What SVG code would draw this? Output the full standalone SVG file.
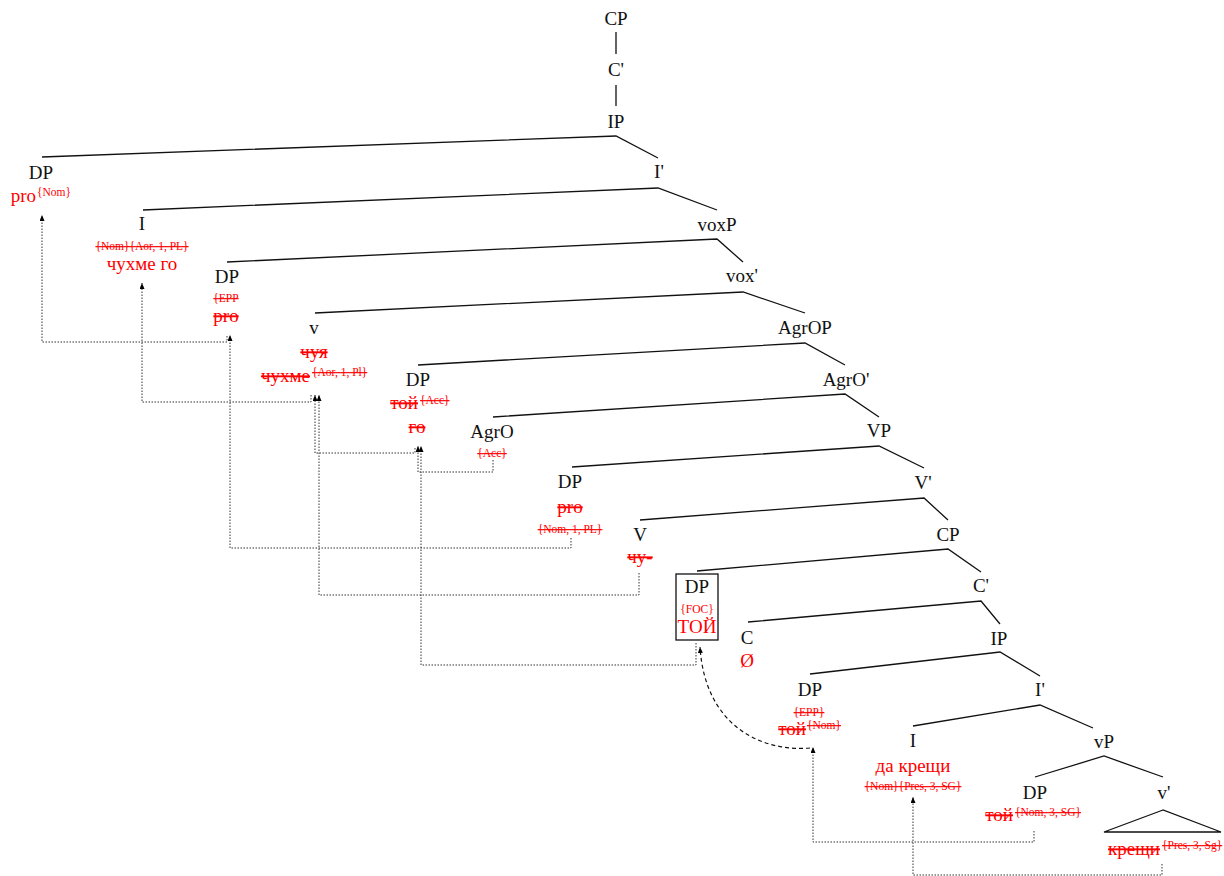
<svg xmlns="http://www.w3.org/2000/svg" width="1224" height="876" viewBox="0 0 1224 876">
<defs>
<marker id="ah" viewBox="0 0 6 5" refX="6" refY="2.5" markerWidth="6" markerHeight="5" markerUnits="userSpaceOnUse" orient="auto">
<path d="M0,0 L6,2.5 L0,5 z" fill="#000"/>
</marker>
<style>
text{font-family:"Liberation Serif","DejaVu Serif",serif;}
.l{font-size:19px;fill:#111;text-anchor:middle;}
.r{font-size:19px;fill:#f00;text-anchor:middle;}
.s{font-size:11.5px;fill:#f00;text-anchor:middle;}
.st{text-decoration:line-through;}
.e{text-anchor:end;}
.b{text-anchor:start;}
.edge{stroke:#111;stroke-width:1.3;fill:none;}
.mv{stroke:#333;stroke-width:1;fill:none;stroke-dasharray:1.5 1.5;marker-end:url(#ah);}
.cv{stroke:#111;stroke-width:1.2;fill:none;stroke-dasharray:4 3;marker-end:url(#ah);}
</style>
</defs>
<rect width="1224" height="876" fill="#fff"/>
<g id="connectors">
<path class="edge" d="M616,32V54M616,85V106"/>
<path class="edge" d="M42,157L616,136L658,158"/>
<path class="edge" d="M143,210L658,188L717,210"/>
<path class="edge" d="M227,262L717,239L743,262"/>
<path class="edge" d="M315,313L743,292L805,313"/>
<path class="edge" d="M418,365L805,343L845,365"/>
<path class="edge" d="M493,417L845,394L879,417"/>
<path class="edge" d="M572,467L879,446L924,468"/>
<path class="edge" d="M640,520L924,498L948,520"/>
<path class="edge" d="M697,571L948,549L981,572"/>
<path class="edge" d="M748,622L981,601L1000,624"/>
<path class="edge" d="M810,674L1000,652L1040,676"/>
<path class="edge" d="M913,726L1040,705L1093,728"/>
<path class="edge" d="M1035,777L1104,756L1163,777"/>
<path class="mv" d="M227,336V342H42V215"/>
<path class="mv" d="M571,538V548H230V335"/>
<path class="mv" d="M311,395V402H142V283"/>
<path class="mv" d="M493,460V472H418V446"/>
<path class="mv" d="M696,643V665H421V446"/>
<path class="mv" d="M415,448V453H315V395"/>
<path class="mv" d="M639,573V595H319V395"/>
<path class="mv" d="M1034,831V842H813V747"/>
<path class="mv" d="M1162,864V875H913V797"/>
<path class="cv" d="M810,748C760,752 705,725 700,647"/>
</g>
<g id="n-CP1"><text class="l" x="616" y="25">CP</text></g>
<g id="n-C1"><text class="l" x="616" y="76">C'</text></g>
<g id="n-IP1"><text class="l" x="616" y="128">IP</text></g>
<g id="n-DP1"><text class="l" x="41" y="179">DP</text><text class="r e" x="36" y="202">pro</text><text class="s b" x="37" y="196">{Nom}</text></g>
<g id="n-I1bar"><text class="l" x="659" y="178">I'</text></g>
<g id="n-I1"><text class="l" x="142" y="230">I</text><text class="s st" x="142" y="250">{Nom}{Aor, 1, PL}</text><text class="r" x="142" y="270">чухме го</text></g>
<g id="n-voxP"><text class="l" x="717" y="231">voxP</text></g>
<g id="n-DP2"><text class="l" x="227" y="283">DP</text><text class="s st" x="226" y="302">{EPP</text><text class="r st" x="226" y="322">pro</text></g>
<g id="n-voxbar"><text class="l" x="742" y="282">vox'</text></g>
<g id="n-v"><text class="l" x="314" y="334">v</text><text class="r st" x="314" y="358">чуя</text><text class="r st e" x="310" y="382">чухме</text><text class="s st b" x="312" y="376">{Aor, 1, Pl}</text></g>
<g id="n-AgrOP"><text class="l" x="805" y="334">AgrOP</text></g>
<g id="n-DP3"><text class="l" x="418" y="386">DP</text><text class="r st e" x="418" y="409">той</text><text class="s st b" x="420" y="404">{Acc}</text><text class="r st" x="417" y="433">го</text></g>
<g id="n-AgrObar"><text class="l" x="846" y="386">AgrO'</text></g>
<g id="n-AgrO"><text class="l" x="492" y="438">AgrO</text><text class="s st" x="492" y="457">{Acc}</text></g>
<g id="n-VP"><text class="l" x="879" y="437">VP</text></g>
<g id="n-DP4"><text class="l" x="570" y="488">DP</text><text class="r st" x="570" y="513">pro</text><text class="s st" x="570" y="533">{Nom, 1, PL}</text></g>
<g id="n-Vbar"><text class="l" x="923" y="489">V'</text></g>
<g id="n-V"><text class="l" x="640" y="541">V</text><text class="r st" x="640" y="563">чу-</text></g>
<g id="n-CP2"><text class="l" x="948" y="541">CP</text></g>
<g id="n-DPfoc"><rect x="676" y="574" width="42" height="66" fill="none" stroke="#111" stroke-width="1.3"/><text class="l" x="697" y="593">DP</text><text class="s" x="697" y="613">{FOC}</text><text class="r" x="697" y="633">ТОЙ</text></g>
<g id="n-C2"><text class="l" x="981" y="592">C'</text></g>
<g id="n-C"><text class="l" x="747" y="644">C</text><text class="r" x="747" y="667">Ø</text></g>
<g id="n-IP2"><text class="l" x="999" y="645">IP</text></g>
<g id="n-DP5"><text class="l" x="810" y="696">DP</text><text class="s st" x="809" y="716">{EPP}</text><text class="r st e" x="806" y="735">той</text><text class="s st b" x="807" y="729">{Nom}</text></g>
<g id="n-I2bar"><text class="l" x="1040" y="696">I'</text></g>
<g id="n-I2"><text class="l" x="913" y="747">I</text><text class="r" x="913" y="772">да крещи</text><text class="s st" x="913" y="790">{Nom}{Pres, 3, SG}</text></g>
<g id="n-vP"><text class="l" x="1104" y="748">vP</text></g>
<g id="n-DP6"><text class="l" x="1035" y="799">DP</text><text class="r st e" x="1013" y="821">той</text><text class="s st b" x="1015" y="816">{Nom, 3, SG}</text></g>
<g id="n-vbar"><text class="l" x="1164" y="799">v'</text><path class="edge" d="M1163,810L1104,832H1221Z"/><text class="r st e" x="1160" y="855">крещи</text><text class="s st b" x="1162" y="849">{Pres, 3, Sg}</text></g>
</svg>
